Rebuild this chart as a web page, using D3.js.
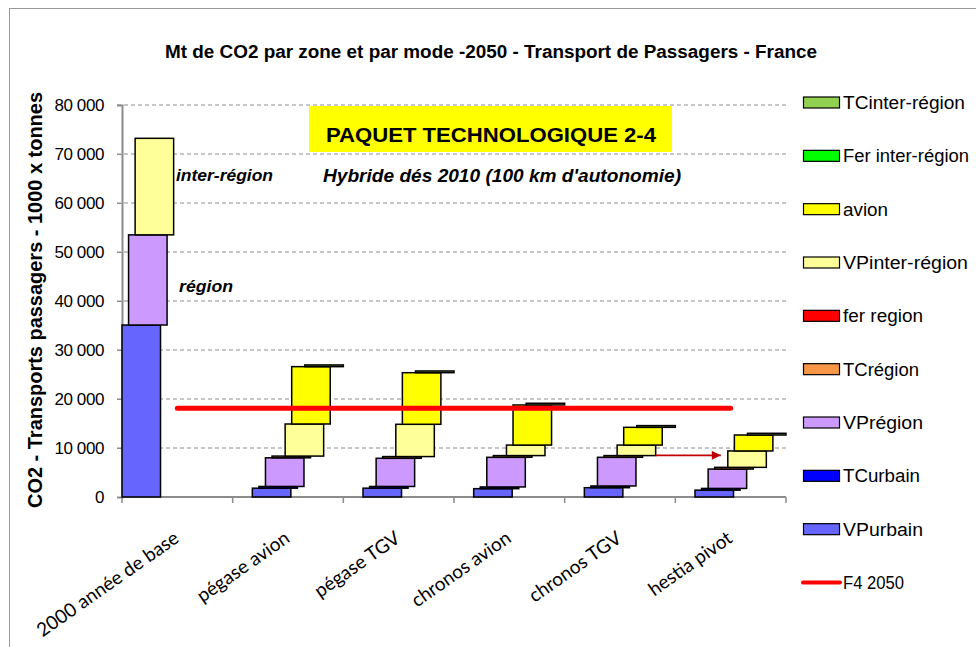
<!DOCTYPE html>
<html>
<head>
<meta charset="utf-8">
<script src="https://cdn.jsdelivr.net/npm/d3@7"></script>
<style>
  body { margin: 0; background: #fff; }
  svg { display: block; }
</style>
</head>
<body>
<svg id="chart" width="976" height="647"></svg>
<script>
// ---- data (kt CO2) ----
const categories = ["2000 année de base", "pégase avion", "pégase TGV", "chronos avion", "chronos TGV", "hestia pivot"];

// 2000 reference, split by zone
const base2000Urbain = [35100, 0, 0, 0, 0, 0];
const base2000Region = [18400, 0, 0, 0, 0, 0];
const base2000Inter  = [19700, 0, 0, 0, 0, 0];

// 2050 scenarios, by mode
const vpUrbain  = [0, 1800, 1800, 1700, 1900, 1400];
const tcUrbain  = [0, 350, 350, 350, 350, 350];
const vpRegion  = [0, 5850, 5750, 6050, 5850, 3950];
const tcRegion  = [0, 350, 350, 350, 350, 350];
const ferRegion = [0, 0, 0, 0, 0, 0];
const vpInter   = [0, 6550, 6590, 2150, 2150, 3350];
const avion     = [0, 11700, 10530, 8180, 3620, 3250];
const ferInter  = [0, 0, 0, 0, 0, 0];
const tcInter   = [0, 350, 350, 350, 350, 350];

// F4 2050 target
const f4_2050 = [18100, 18100, 18100, 18100, 18100, 18100];

const yTicks = [0, 10000, 20000, 30000, 40000, 50000, 60000, 70000, 80000];

// series in drawing / stacking order
const series = [
  { key: "b2000u", name: null, values: base2000Urbain, color: "#6666FF" },
  { key: "b2000r", name: null, values: base2000Region, color: "#CC99FF" },
  { key: "b2000i", name: null, values: base2000Inter,  color: "#FFFF99" },
  { key: "vpu", name: "VPurbain",         values: vpUrbain,  color: "#6666FF" },
  { key: "tcu", name: "TCurbain",         values: tcUrbain,  color: "#0000FF" },
  { key: "vpr", name: "VPrégion",         values: vpRegion,  color: "#CC99FF" },
  { key: "tcr", name: "TCrégion",         values: tcRegion,  color: "#F79646" },
  { key: "fr",  name: "fer region",       values: ferRegion, color: "#FF0000" },
  { key: "vpi", name: "VPinter-région",   values: vpInter,   color: "#FFFF99" },
  { key: "av",  name: "avion",            values: avion,     color: "#FFFF00" },
  { key: "fi",  name: "Fer inter-région", values: ferInter,  color: "#00FF00" },
  { key: "tci", name: "TCinter-région",   values: tcInter,   color: "#92D050" }
];

const svg = d3.select("#chart");
const W = 976, H = 647;

// chart frame
svg.append("rect").attr("x", 9.5).attr("y", 8.5).attr("width", W + 20).attr("height", H + 20)
  .attr("fill", "#fff").attr("stroke", "#999").attr("stroke-width", 1);

const plot = { left: 122, right: 786, top: 105, bottom: 497 };

const x = d3.scaleBand().domain(categories).range([plot.left, plot.right]).padding(0);
const y = d3.scaleLinear().domain([0, 80000]).range([plot.bottom, plot.top]);

const barW = x.bandwidth() * 0.348;
const slot = d3.scalePoint().domain(series.map(s => s.key)).range([0, x.bandwidth() - barW]);

const fr = d3.formatLocale({ decimal: ",", thousands: " ", grouping: [3], currency: ["", " €"] });
const fmt = fr.format(",");

// gridlines
svg.append("g").selectAll("line").data(yTicks.filter(t => t > 0)).join("line")
  .attr("x1", plot.left - 5).attr("x2", plot.right)
  .attr("y1", d => y(d)).attr("y2", d => y(d))
  .attr("stroke", "#8c8c8c").attr("stroke-width", 1).attr("stroke-dasharray", "4,3");

// y axis
const yAxis = d3.axisLeft(y).tickValues(yTicks).tickFormat(fmt).tickSize(5).tickPadding(13);
const gy = svg.append("g").attr("transform", `translate(${plot.left},0)`).call(yAxis);
gy.select(".domain").attr("stroke", "#8c8c8c").attr("stroke-width", 2);
gy.selectAll(".tick line").attr("stroke", "#8c8c8c");
gy.selectAll(".tick text").attr("font-family", "'Liberation Sans', Arial, sans-serif")
  .attr("font-size", 17).attr("letter-spacing", -0.4).attr("fill", "#000");

// x axis
const gx = svg.append("g").attr("transform", `translate(0,${plot.bottom})`);
gx.append("line").attr("x1", plot.left).attr("x2", plot.right)
  .attr("stroke", "#8c8c8c").attr("stroke-width", 2);
const bounds = categories.map(c => x(c)).concat([plot.right]);
gx.selectAll("line.tk").data(bounds).join("line").attr("class", "tk")
  .attr("x1", d => d).attr("x2", d => d).attr("y1", 0).attr("y2", 6)
  .attr("stroke", "#8c8c8c").attr("stroke-width", 1.5);
gx.selectAll("text").data(categories).join("text")
  .attr("transform", d => `translate(${x(d) + x.bandwidth() / 2 + 3},${44}) rotate(-35)`)
  .attr("text-anchor", "end")
  .attr("font-family", "Lato, 'Open Sans', sans-serif").attr("font-size", 19)
  .attr("fill", "#000").text(d => d);

// stacked floating bars
const rows = categories.map((c, i) => {
  const r = { cat: c };
  series.forEach(s => r[s.key] = s.values[i]);
  return r;
});
const stacked = d3.stack().keys(series.map(s => s.key))(rows);
const colorOf = Object.fromEntries(series.map(s => [s.key, s.color]));

const gb = svg.append("g");
stacked.forEach(layer => {
  gb.append("g").selectAll("rect")
    .data(layer.filter(d => d[1] - d[0] > 0))
    .join("rect")
    .attr("x", d => x(d.data.cat) + slot(layer.key))
    .attr("width", barW)
    .attr("y", d => y(d[1]))
    .attr("height", d => y(d[0]) - y(d[1]))
    .attr("fill", colorOf[layer.key])
    .attr("stroke", "#000").attr("stroke-width", 1.5);
});

// F4 2050 line
const line = d3.line().x((d, i) => x(categories[i]) + x.bandwidth() / 2).y(d => y(d));
svg.append("path").datum(f4_2050).attr("d", line)
  .attr("fill", "none").attr("stroke", "#FF0000").attr("stroke-width", 5).attr("stroke-linecap", "round");

// arrow from chronos TGV to hestia pivot
const defs = svg.append("defs");
defs.append("marker").attr("id", "arr").attr("viewBox", "0 0 10 10")
  .attr("refX", 10).attr("refY", 5).attr("markerWidth", 10).attr("markerHeight", 9)
  .attr("markerUnits", "userSpaceOnUse").attr("orient", "auto")
  .append("path").attr("d", "M0,0 L10,5 L0,10 Z").attr("fill", "#C00000");
const arrowY = y(8500);
svg.append("line")
  .attr("x1", x("chronos TGV") + slot("vpi") + barW)
  .attr("x2", x("hestia pivot") + slot("vpi") - 7)
  .attr("y1", arrowY).attr("y2", arrowY)
  .attr("stroke", "#C00000").attr("stroke-width", 1.6).attr("marker-end", "url(#arr)");

// title
svg.append("text").attr("x", 491).attr("y", 58).attr("text-anchor", "middle")
  .attr("font-family", "'Liberation Sans', Arial, sans-serif").attr("font-weight", "bold")
  .attr("font-size", 18).attr("textLength", 652).attr("lengthAdjust", "spacingAndGlyphs")
  .text("Mt de CO2 par zone et par mode -2050 - Transport de Passagers - France");

// y axis title
svg.append("text").attr("transform", "translate(42,300) rotate(-90)").attr("text-anchor", "middle")
  .attr("font-family", "'Liberation Sans', Arial, sans-serif").attr("font-weight", "bold")
  .attr("font-size", 21).attr("textLength", 416).attr("lengthAdjust", "spacingAndGlyphs")
  .text("CO2 - Transports passagers - 1000  x tonnes");

// scenario banner
svg.append("rect").attr("x", 309).attr("y", 106).attr("width", 363).attr("height", 46).attr("fill", "#FFFF00");
svg.append("text").attr("x", 491).attr("y", 142).attr("text-anchor", "middle")
  .attr("font-family", "'Liberation Sans', Arial, sans-serif").attr("font-weight", "bold")
  .attr("font-size", 21).attr("textLength", 330).attr("lengthAdjust", "spacingAndGlyphs")
  .text("PAQUET TECHNOLOGIQUE 2-4");
svg.append("text").attr("x", 502).attr("y", 182).attr("text-anchor", "middle")
  .attr("font-family", "'Liberation Sans', Arial, sans-serif").attr("font-weight", "bold").attr("font-style", "italic")
  .attr("font-size", 18).attr("textLength", 358).attr("lengthAdjust", "spacingAndGlyphs")
  .text("Hybride dés 2010 (100 km d'autonomie)");

// zone labels beside the 2000 bar
svg.append("text").attr("x", 176).attr("y", 181)
  .attr("font-family", "'Liberation Sans', Arial, sans-serif").attr("font-weight", "bold").attr("font-style", "italic")
  .attr("font-size", 17).attr("textLength", 97).attr("lengthAdjust", "spacingAndGlyphs")
  .text("inter-région");
svg.append("text").attr("x", 179).attr("y", 292)
  .attr("font-family", "'Liberation Sans', Arial, sans-serif").attr("font-weight", "bold").attr("font-style", "italic")
  .attr("font-size", 17).attr("textLength", 54).attr("lengthAdjust", "spacingAndGlyphs")
  .text("région");

// legend
const legendItems = series.filter(s => s.name).slice().reverse()
  .concat([{ name: "F4 2050", line: true, color: "#FF0000" }]);
const legendWidths = { "TCinter-région": 122, "Fer inter-région": 126, "avion": 45, "VPinter-région": 125,
  "fer region": 80, "TCrégion": 76, "VPrégion": 80, "TCurbain": 77, "VPurbain": 80, "F4 2050": 61 };
const lg = svg.append("g");
const ly = d3.scalePoint().domain(legendItems.map(d => d.name)).range([102.5, 582.5]);
legendItems.forEach(d => {
  const cy = ly(d.name);
  if (d.line) {
    lg.append("line").attr("x1", 803).attr("x2", 840).attr("y1", cy).attr("y2", cy)
      .attr("stroke", d.color).attr("stroke-width", 4).attr("stroke-linecap", "round");
  } else {
    lg.append("rect").attr("x", 803.5).attr("y", cy - 5.5).attr("width", 36).attr("height", 11)
      .attr("fill", d.color).attr("stroke", "#000").attr("stroke-width", 1.2);
  }
  lg.append("text").attr("x", 843).attr("y", cy + 6.5)
    .attr("font-family", "'Liberation Sans', Arial, sans-serif").attr("font-size", 17.5)
    .attr("textLength", legendWidths[d.name]).attr("lengthAdjust", "spacingAndGlyphs")
    .text(d.name);
});
</script>
</body>
</html>
